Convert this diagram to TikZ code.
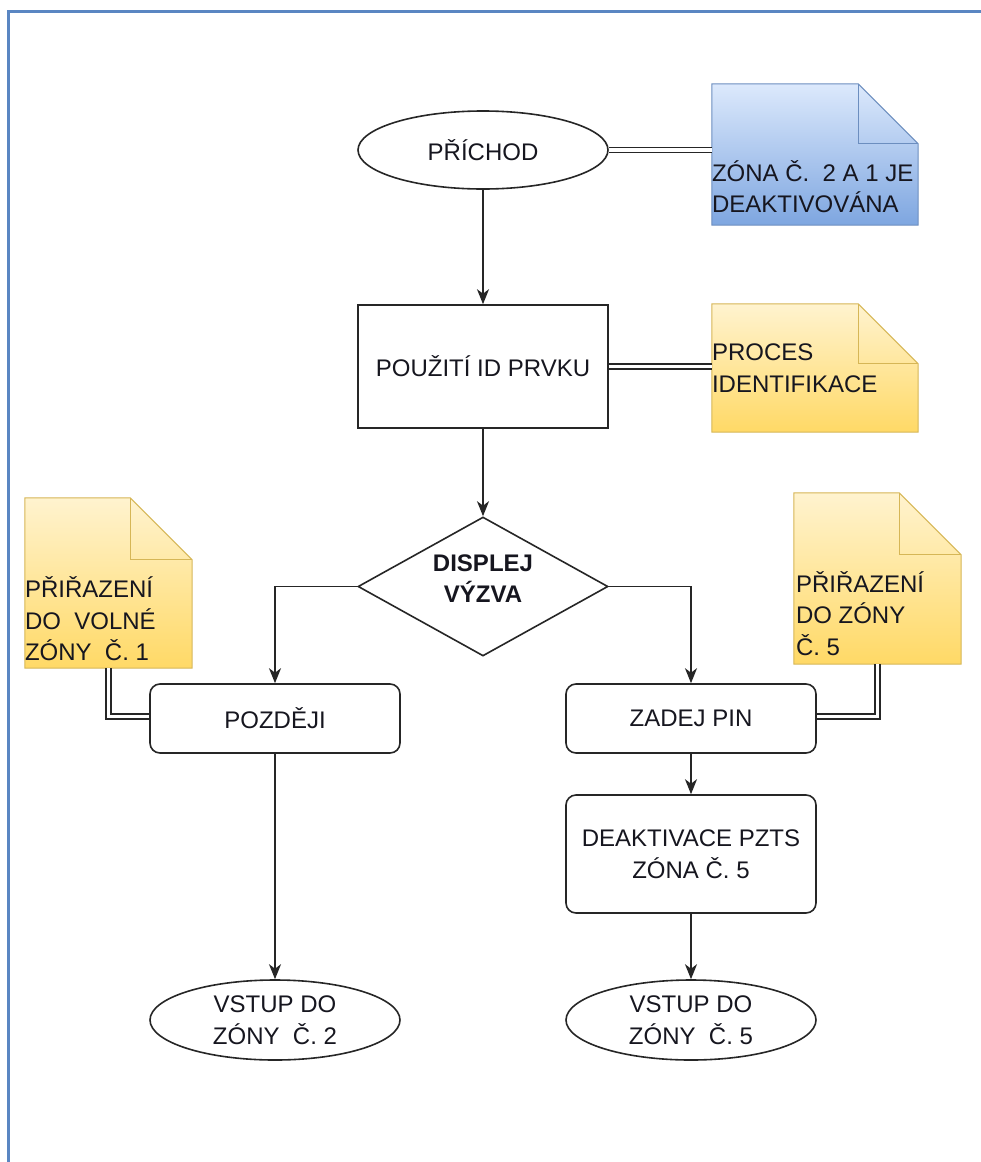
\documentclass[tikz,border=0pt]{standalone}
\usepackage{fontspec}
\setmainfont{Liberation Sans}
\usetikzlibrary{shapes.geometric,arrows.meta,calc}

\definecolor{frameblue}{HTML}{5A86C2}
\definecolor{lineclr}{HTML}{262626}
\definecolor{txtclr}{HTML}{16161F}
\definecolor{bluetop}{HTML}{DCE9FC}
\definecolor{bluebot}{HTML}{7EA6E0}
\definecolor{blueedge}{HTML}{6C8EBF}
\definecolor{yeltop}{HTML}{FFF3CF}
\definecolor{yelbot}{HTML}{FFD966}
\definecolor{yeledge}{HTML}{D6B656}

% note shape with a folded top-right corner, drawn around an empty node
\newcommand{\foldednote}[5]{%
  \shade[top color=#3, bottom color=#4, draw=#5, line width=1pt]
    (#1.north west) -- ($(#1.north east)+(-#2,0)$) -- ($(#1.north east)+(0,#2)$)
    -- (#1.south east) -- (#1.south west) -- cycle;
  \draw[#5, line width=1pt]
    ($(#1.north east)+(-#2,0)$) -- ($(#1.north east)+(-#2,#2)$) -- ($(#1.north east)+(0,#2)$);
}

\begin{document}
\begin{tikzpicture}[x=1pt,y=-1pt,
  every node/.style={font=\fontsize{24}{31.5}\selectfont, text=txtclr},
  terminal/.style={ellipse, draw=lineclr, line width=1.6pt, fill=white,
    minimum width=250pt, minimum height=78pt, inner sep=0pt, align=center},
  process/.style={rectangle, draw=lineclr, line width=1.6pt, fill=white,
    minimum width=250pt, minimum height=123pt, inner sep=0pt, align=center},
  roundbox/.style={rectangle, rounded corners=10pt, draw=lineclr, line width=1.6pt,
    fill=white, minimum width=250pt, inner sep=0pt, align=center},
  decision/.style={diamond, draw=lineclr, line width=1.6pt, fill=white,
    minimum width=250pt, minimum height=139pt, inner sep=0pt},
  notearea/.style={rectangle, inner sep=0pt},
  notetext/.style={inner sep=0pt, align=left, anchor=west},
  flow/.style={draw=lineclr, line width=1.6pt,
    -{Stealth[length=15pt,width=12pt,inset=4.5pt]}},
  link/.style={draw=lineclr, line width=1.5pt, double=white, double distance=3.5pt}
]
\useasboundingbox (0,0) rectangle (981,1162);

% outer frame (top and left edges)
\coordinate (frameTR) at (981,11);
\coordinate (frameTL) at (8,11);
\coordinate (frameBL) at (8,1162);
\draw[frameblue, line width=3pt] (frameTR) -- (frameTL) -- (frameBL);

% main flow
\node[terminal] (start) at (483,150) {PŘÍCHOD};
\node[process] (useid) at (483,366.5) {POUŽITÍ ID PRVKU};
\node[decision] (prompt) at (483,586.5) {};
\node[inner sep=0pt, align=center, font=\fontsize{24}{31.5}\selectfont\bfseries]
  (prompttxt) at ($(prompt.center)+(0,-8)$) {DISPLEJ\\VÝZVA};
\node[roundbox, minimum height=69pt] (later) at (275,718.5) {POZDĚJI};
\node[roundbox, minimum height=69pt] (pin) at (691,718.5) {ZADEJ PIN};
\node[roundbox, minimum height=118pt] (deact) at (691,854) {DEAKTIVACE PZTS\\ZÓNA Č. 5};
\node[terminal, minimum height=80pt] (zone2) at (275,1020) {VSTUP DO\\ZÓNY\ \ Č. 2};
\node[terminal, minimum height=80pt] (zone5) at (691,1020) {VSTUP DO\\ZÓNY\ \ Č. 5};

% notes
\node[notearea, minimum width=206pt, minimum height=141pt] (noteA) at (815,154.5) {};
\node[notearea, minimum width=206pt, minimum height=128pt] (noteB) at (815,368) {};
\node[notearea, minimum width=167pt, minimum height=170pt] (noteC) at (108.5,583) {};
\node[notearea, minimum width=167pt, minimum height=171pt] (noteD) at (877.5,578.5) {};
\foldednote{noteA}{60}{bluetop}{bluebot}{blueedge}
\foldednote{noteB}{60}{yeltop}{yelbot}{yeledge}
\foldednote{noteC}{62}{yeltop}{yelbot}{yeledge}
\foldednote{noteD}{62}{yeltop}{yelbot}{yeledge}
\node[notetext] (noteAtxt) at ($(noteA.west)+(0,32)$) {ZÓNA Č.\ \ 2 A 1 JE\\DEAKTIVOVÁNA};
\node[notetext] (noteBtxt) at ($(noteB.west)+(0,0)$) {PROCES\\IDENTIFIKACE};
\node[notetext] (noteCtxt) at ($(noteC.west)+(0,36)$) {PŘIŘAZENÍ\\DO\ \ VOLNÉ\\ZÓNY\ \ Č. 1};
\node[notetext] (noteDtxt) at ($(noteD.west)+(2,35)$) {PŘIŘAZENÍ\\DO ZÓNY\\Č. 5};

% flow connectors
\draw[flow] (start) -- (useid);
\draw[flow] (useid) -- (prompt);
\draw[flow] (prompt.west) -| (later.north);
\draw[flow] (prompt.east) -| (pin.north);
\draw[flow] (pin) -- (deact);
\draw[flow] (deact) -- (zone5);
\draw[flow] (later) -- (zone2);

% note links
\draw[link] (start.east) -- (noteA.west |- start.east);
\draw[link] (useid.east) -- (noteB.west |- useid.east);
\draw[link] (noteC.south) |- ($(later.west)+(0,-2)$);
\draw[link] (noteD.south) |- ($(pin.east)+(0,-2)$);
\end{tikzpicture}
\end{document}
